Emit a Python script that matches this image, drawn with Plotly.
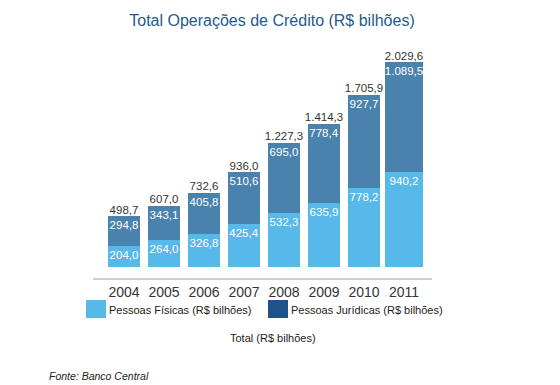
import plotly.graph_objects as go

years = ["2004", "2005", "2006", "2007", "2008", "2009", "2010", "2011"]
pessoas_fisicas = [204.0, 264.0, 326.8, 425.4, 532.3, 635.9, 778.2, 940.2]
pessoas_juridicas = [294.8, 343.1, 405.8, 510.6, 695.0, 778.4, 927.7, 1089.5]
totals = [498.7, 607.0, 732.6, 936.0, 1227.3, 1414.3, 1705.9, 2029.6]

pf_label = "Pessoas Físicas (R$ bilhões)"
pj_label = "Pessoas Jurídicas (R$ bilhões)"
total_label = "Total (R$ bilhões)"
title_text = "Total Operações de Crédito (R$ bilhões)"
source_text = "Fonte: Banco Central"

# bar widths (style), the last bar is drawn a little wider in the reference
bar_widths = [0.8, 0.8, 0.8, 0.8, 0.8, 0.8, 0.8, 0.93]


def br(v):
    s = f"{v:,.1f}"
    return s.replace(",", "X").replace(".", ",").replace("X", ".")


FONT = "Liberation Sans, Arial, sans-serif"
# page body has an 8px margin: figure is drawn at (8, 8)
OFF = 8
W, H = 560 - OFF, 385 - OFF
L, R, T, B = 93 - OFF, 128, 50 - OFF, 115 - OFF
PW, PH = W - L - R, H - T - B


def px_x(px):
    return (px - OFF - L) / PW


def px_y(py):
    return (H - B - (py - OFF)) / PH


PF_COLOR = "#56b9ea"
PJ_COLOR = "#4a82ae"

fig = go.Figure()
fig.add_trace(go.Bar(
    x=years, y=pessoas_fisicas, name=pf_label, width=bar_widths,
    marker=dict(color=PF_COLOR, line=dict(width=0)),
    text=[br(v) for v in pessoas_fisicas], textposition="inside", textangle=0,
    insidetextanchor="end", constraintext="none",
    textfont=dict(color="white", size=11.5, family=FONT),
    showlegend=False,
))
fig.add_trace(go.Bar(
    x=years, y=pessoas_juridicas, name=pj_label, width=bar_widths,
    marker=dict(color=PJ_COLOR, line=dict(width=0)),
    text=[br(v) for v in pessoas_juridicas], textposition="inside", textangle=0,
    insidetextanchor="end", constraintext="none",
    textfont=dict(color="white", size=11.5, family=FONT),
    showlegend=False,
))
fig.add_trace(go.Scatter(
    x=years, y=totals, name=total_label, mode="text",
    text=[br(v) for v in totals], textposition="top center",
    textfont=dict(color="#333333", size=11.5, family=FONT),
    cliponaxis=False, showlegend=False,
))

fig.update_layout(
    width=W, height=H,
    margin=dict(l=L, r=R, t=T, b=B, autoexpand=False),
    barmode="stack",
    plot_bgcolor="white", paper_bgcolor="white",
    font=dict(family=FONT, color="#222222"),
    title=dict(text=title_text, xref="paper", x=px_x(272), xanchor="center",
               yref="container", y=1 - (20 - OFF) / H, yanchor="middle",
               font=dict(size=16, color="#1f5a8c", family=FONT)),
    xaxis=dict(type="category", range=[-0.775, 7.7], showline=True,
               linecolor="#cfcfcf", linewidth=2, ticks="", showgrid=False,
               tickfont=dict(size=14, color="#333333", family=FONT)),
    yaxis=dict(visible=False, range=[-113, 2153], showgrid=False, zeroline=False),
)

# manual legend
fig.add_shape(type="rect", xref="paper", yref="paper",
              x0=px_x(86), x1=px_x(106), y0=px_y(318), y1=px_y(300),
              fillcolor=PF_COLOR, line=dict(width=0))
fig.add_shape(type="rect", xref="paper", yref="paper",
              x0=px_x(268), x1=px_x(288), y0=px_y(318), y1=px_y(300),
              fillcolor="#1d5488", line=dict(width=0))
fig.add_annotation(text=pf_label, xref="paper", yref="paper", x=px_x(107), y=px_y(310),
                   xanchor="left", yanchor="middle", showarrow=False,
                   font=dict(size=11, color="#222222", family=FONT))
fig.add_annotation(text=pj_label, xref="paper", yref="paper", x=px_x(289), y=px_y(310),
                   xanchor="left", yanchor="middle", showarrow=False,
                   font=dict(size=11, color="#222222", family=FONT))
fig.add_annotation(text=total_label, xref="paper", yref="paper", x=px_x(273), y=px_y(338),
                   xanchor="center", yanchor="middle", showarrow=False,
                   font=dict(size=11, color="#222222", family=FONT))
fig.add_annotation(text="<i>" + source_text + "</i>", xref="paper", yref="paper",
                   x=px_x(47), y=px_y(376), xanchor="left", yanchor="middle",
                   showarrow=False, font=dict(size=10.5, color="#222222", family=FONT))

fig.write_html("out.html")
